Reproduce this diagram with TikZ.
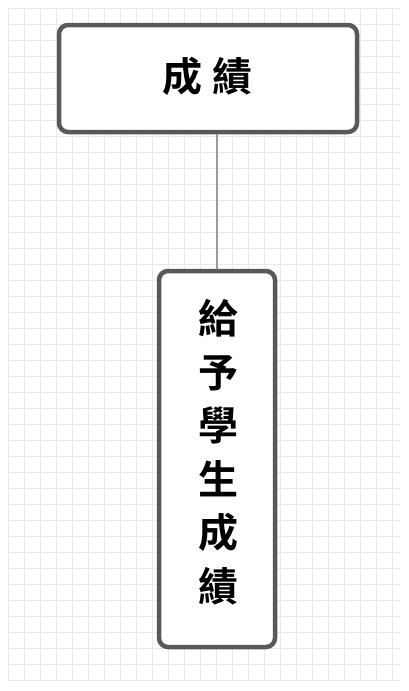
\documentclass[tikz,border=0pt]{standalone}
\usepackage{fontspec}
\newfontfamily\cjk{Noto Sans CJK TC}[BoldFont={* Bold}]
\definecolor{boxline}{HTML}{595959}
\definecolor{conn}{HTML}{9A9A9A}
\definecolor{gridc}{HTML}{E8E8E8}
\begin{document}
\begin{tikzpicture}[x=1pt,y=-1pt,
  box/.style={draw=boxline,line width=4.5pt,rounded corners=9pt,fill=white,inner sep=0pt},
  lbl/.style={font=\cjk\bfseries\fontsize{40}{53.5}\selectfont,text=black},
  link/.style={draw=conn,line width=2.5pt},
  gl/.style={draw=gridc,line width=0.6pt}]
\useasboundingbox (0,0) rectangle (409,691);
\fill[white] (0,0) rectangle (409,691);
\foreach \i in {0,...,24} {\draw[gl] (8+16*\i,8) -- (8+16*\i,680);}
\foreach \j in {0,...,42} {\draw[gl] (8,8+16*\j) -- (400,8+16*\j);}
\node[box,minimum width=298pt,minimum height=107pt] (top) at (208,78.5) {};
\node[lbl] (toptext) at (207.5,76) {成\hspace{10pt}績};
\node[box,minimum width=116pt,minimum height=376pt] (bot) at (217,459) {};
\node[lbl,align=center] (bottext) at (218,452) {給\\予\\學\\生\\成\\績};
\draw[link] (bot.north) -- (bot.north |- top.south);
\end{tikzpicture}
\end{document}
